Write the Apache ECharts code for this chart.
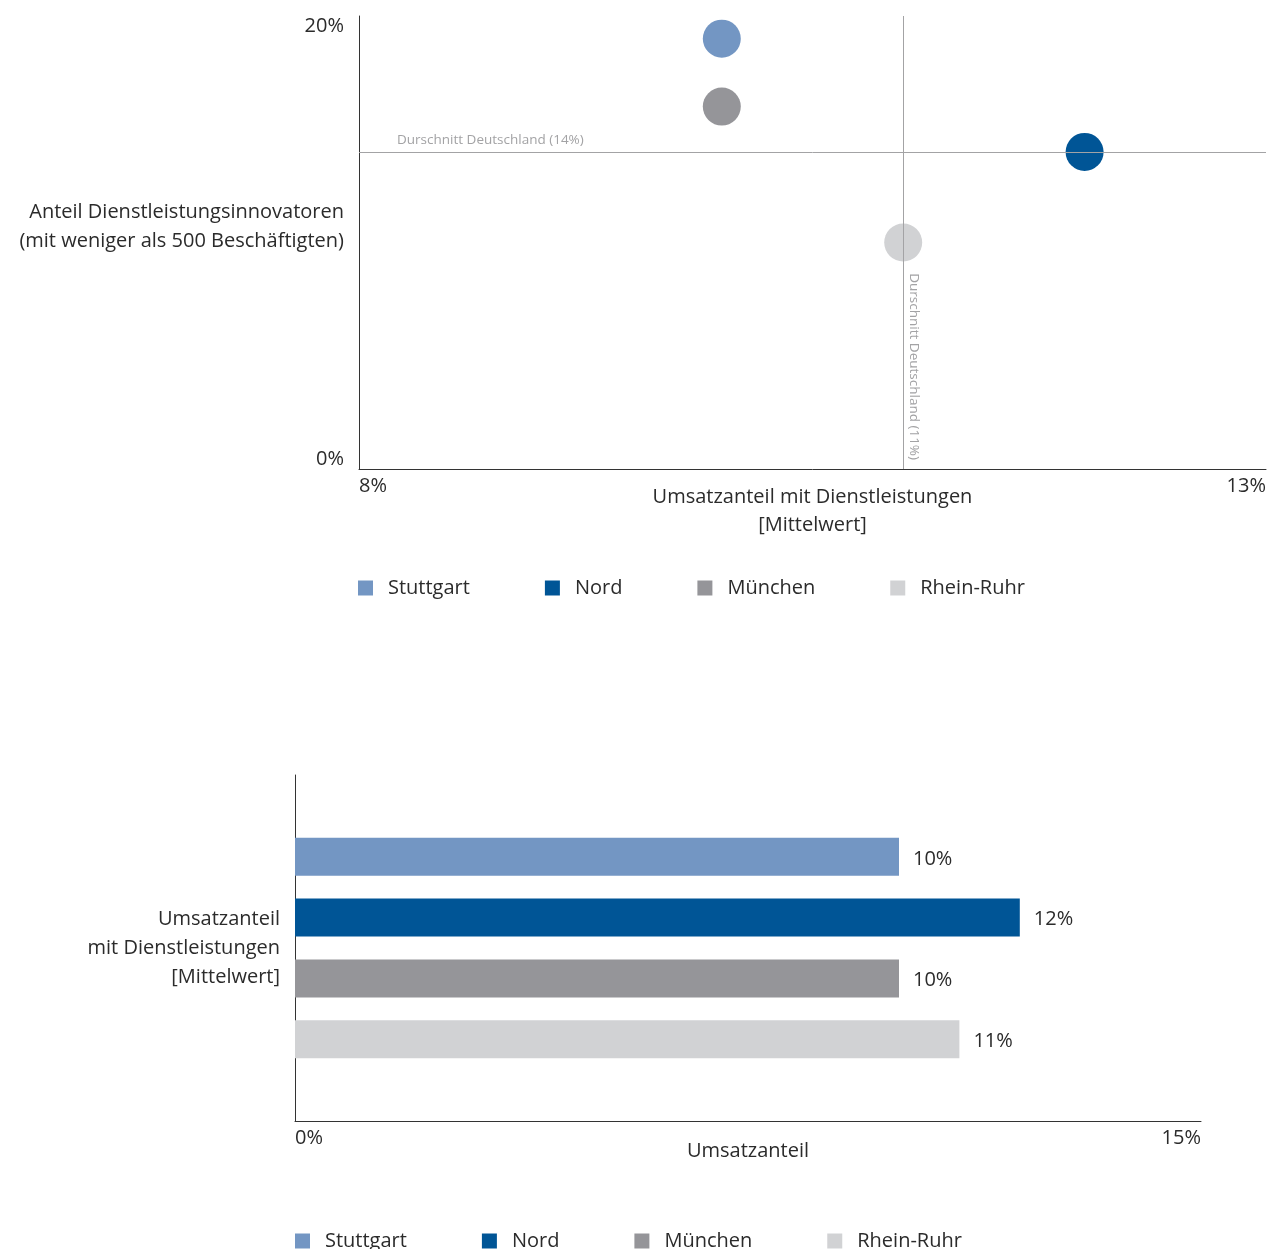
<!DOCTYPE html>
<html>
<head>
<meta charset="utf-8">
<script src="https://cdn.jsdelivr.net/npm/echarts@6/dist/echarts.min.js"></script>
<style>
html,body{margin:0;padding:0;background:#fff;}
#c{width:1273px;height:1249px;}
</style>
</head>
<body>
<div id="c"></div>
<script>
const regions = ['Stuttgart', 'Nord', 'München', 'Rhein-Ruhr'];
const regionColors = ['#7396c3', '#005596', '#959599', '#d1d2d4'];
const serviceShare = [10, 12, 10, 11];      // Umsatzanteil mit Dienstleistungen (%)
const innovatorShare = [19, 14, 16, 10];    // Anteil Dienstleistungsinnovatoren (%)
const avgServiceShare = 11;
const avgInnovatorShare = 14;
const scatterXTicks = [8, 13];
const scatterYTicks = [0, 20];
const barXTicks = [0, 15];

const FONT = 'Open Sans';
const TXT = '#2b2b2b';
const REF = '#a3a3a5';

const chart = echarts.init(document.getElementById('c'));

const scatterSeries = regions.map((r, i) => ({
  name: r,
  type: 'scatter',
  xAxisIndex: 0,
  yAxisIndex: 0,
  symbolSize: 38,
  z: 3,
  itemStyle: { color: regionColors[i], opacity: 1 },
  data: [[serviceShare[i], innovatorShare[i]]]
}));

const refSeries = {
  type: 'scatter',
  xAxisIndex: 0,
  yAxisIndex: 0,
  data: [],
  z: 1,
  silent: true,
  markLine: {
    silent: true,
    symbol: 'none',
    animation: false,
    lineStyle: { color: REF, type: 'solid', width: 1 },
    label: { fontFamily: FONT, fontSize: 13.5, color: REF },
    data: [
      [
        { coord: [scatterXTicks[0], avgInnovatorShare] },
        { coord: [scatterXTicks[1], avgInnovatorShare],
          label: { show: true, position: 'insideStartTop', distance: [38, 5],
                   formatter: 'Durschnitt Deutschland (' + avgInnovatorShare + '%)' } }
      ],
      [
        { coord: [avgServiceShare, scatterYTicks[1]] },
        { coord: [avgServiceShare, scatterYTicks[0]],
          label: { show: true, position: 'insideEndTop', distance: [9, 4],
                   formatter: 'Durschnitt Deutschland (' + avgServiceShare + '%)' } }
      ]
    ]
  }
};

const barSeries = regions.map((r, i) => ({
  name: r,
  type: 'bar',
  xAxisIndex: 1,
  yAxisIndex: 1,
  barWidth: 38,
  barGap: '60%',
  itemStyle: { color: regionColors[i] },
  label: { show: true, position: 'right', distance: 14, formatter: '{c}%',
           fontFamily: FONT, fontSize: 20, color: TXT, offset: [0, 2] },
  data: [serviceShare[i]]
}));

const legendCommon = {
  data: regions,
  icon: 'rect',
  itemWidth: 15,
  itemHeight: 15,
  itemGap: 75,
  padding: 0,
  orient: 'horizontal',
  textStyle: { fontFamily: FONT, fontSize: 20, color: TXT, padding: [0, 0, 0, 10] }
};

chart.setOption({
  animation: false,
  textStyle: { fontFamily: FONT },
  legend: [
    Object.assign({ left: 358, top: 578 }, legendCommon),
    Object.assign({ left: 295, top: 1231 }, legendCommon)
  ],
  grid: [
    { left: 359, right: 7, top: 16, height: 453, outerBoundsMode: 'none', containLabel: false },
    { left: 295, right: 72, top: 775, height: 346, outerBoundsMode: 'none', containLabel: false }
  ],
  graphic: [
    {
      type: 'text',
      right: 929,
      top: 198,
      style: {
        text: 'Anteil Dienstleistungsinnovatoren\n(mit weniger als 500 Beschäftigten)',
        textAlign: 'right',
        fontFamily: FONT, fontSize: 20, lineHeight: 29, fill: TXT
      }
    }
  ],
  xAxis: [
    {
      gridIndex: 0, type: 'value', min: scatterXTicks[0], max: scatterXTicks[1], interval: 1,
      name: 'Umsatzanteil mit Dienstleistungen\n[Mittelwert]',
      nameLocation: 'middle', nameGap: 14, nameMoveOverlap: false,
      nameTextStyle: { fontFamily: FONT, fontSize: 20, color: TXT, lineHeight: 28 },
      axisLine: { show: true, lineStyle: { color: '#333', width: 1 } },
      axisTick: { show: false },
      splitLine: { show: false },
      axisLabel: { customValues: scatterXTicks, formatter: '{value}%', margin: 7,
                   fontFamily: FONT, fontSize: 20, color: TXT,
                   alignMinLabel: 'left', alignMaxLabel: 'right' }
    },
    {
      gridIndex: 1, type: 'value', min: barXTicks[0], max: barXTicks[1], interval: 15,
      name: 'Umsatzanteil',
      nameLocation: 'middle', nameGap: 18, nameMoveOverlap: false,
      nameTextStyle: { fontFamily: FONT, fontSize: 20, color: TXT, lineHeight: 24 },
      axisLine: { show: true, lineStyle: { color: '#333', width: 1 } },
      axisTick: { show: false },
      splitLine: { show: false },
      axisLabel: { formatter: '{value}%', margin: 7,
                   fontFamily: FONT, fontSize: 20, color: TXT,
                   alignMinLabel: 'left', alignMaxLabel: 'right' }
    }
  ],
  yAxis: [
    {
      gridIndex: 0, type: 'value', min: scatterYTicks[0], max: scatterYTicks[1], interval: 20,
      axisLine: { show: true, lineStyle: { color: '#333', width: 1 } },
      axisTick: { show: false },
      splitLine: { show: false },
      axisLabel: { formatter: '{value}%', margin: 15,
                   fontFamily: FONT, fontSize: 20, color: TXT,
                   verticalAlignMinLabel: 'bottom', verticalAlignMaxLabel: 'top' }
    },
    {
      gridIndex: 1, type: 'category', inverse: true,
      data: ['Umsatzanteil\nmit Dienstleistungen\n[Mittelwert]'],
      axisLine: { show: true, lineStyle: { color: '#333', width: 1 } },
      axisTick: { show: false },
      splitLine: { show: false },
      axisLabel: { margin: 15, fontFamily: FONT, fontSize: 20, color: TXT, lineHeight: 29, align: 'right' }
    }
  ],
  series: [refSeries].concat(scatterSeries, barSeries)
});
</script>
</body>
</html>
